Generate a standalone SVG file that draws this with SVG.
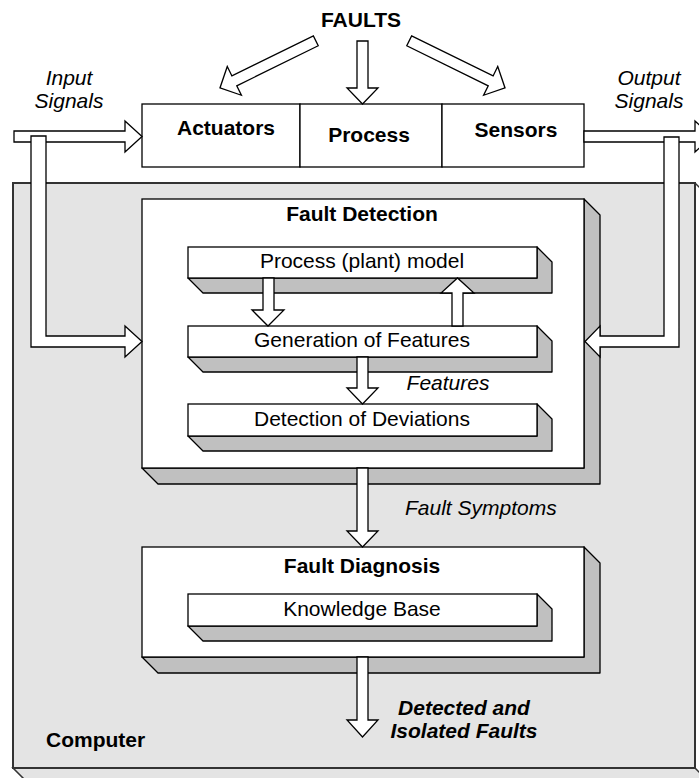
<svg xmlns="http://www.w3.org/2000/svg" width="699" height="778" viewBox="0 0 699 778">
<style>
text{font-family:"Liberation Sans",Arial,sans-serif;font-size:21px;fill:#000}
.b{font-weight:bold}
.i{font-style:italic}
.c{text-anchor:middle}
.ar{fill:#fff;stroke:#000;stroke-width:1.3;stroke-linejoin:miter}
.front{fill:#fff;stroke:#000;stroke-width:1.3}
.side{fill:#c0c0c0;stroke:#000;stroke-width:1.3;stroke-linejoin:round}
.box{fill:#fff;stroke:#000;stroke-width:1.3}
</style>
<rect width="699" height="778" fill="#fff"/>

<g id="computer">
  <polygon points="695,768 711,784 29,784 13,768" fill="#e4e4e4" stroke="#333" stroke-width="1.5"/>
  <line x1="695" y1="183" x2="711" y2="199" stroke="#333" stroke-width="1.5"/>
  <rect x="13" y="183" width="682" height="585" fill="#e4e4e4" stroke="#333" stroke-width="2"/>
  <text class="b" x="46" y="747">Computer</text>
</g>

<g id="process-chain">
  <rect class="box" x="142" y="104" width="158" height="63"/>
  <rect class="box" x="300" y="104" width="142" height="63"/>
  <rect class="box" x="442" y="104" width="142" height="63"/>
  <text class="b c" x="226" y="135">Actuators</text>
  <text class="b c" x="369" y="142">Process</text>
  <text class="b c" x="516" y="137">Sensors</text>
</g>

<g id="labels">
  <text class="b c" x="361" y="27">FAULTS</text>
  <text class="i c" x="69" y="85">Input</text>
  <text class="i c" x="69" y="108">Signals</text>
  <text class="i c" x="649" y="85">Output</text>
  <text class="i c" x="649" y="108">Signals</text>
</g>

<g id="fault-detection">
  <polygon class="side" points="584,199 600,215 600,484 158,484 142,468 584,468"/>
  <rect class="front" x="142" y="199" width="442" height="269"/>
  <text class="b c" x="362" y="221">Fault Detection</text>
</g>

<g id="process-model">
  <polygon class="side" points="537,247 552,262 552,293 203,293 188,278 537,278"/>
  <rect class="front" x="188" y="247" width="349" height="31"/>
  <text class="c" x="362" y="268">Process (plant) model</text>
</g>

<g id="generation-of-features">
  <polygon class="side" points="537,326 552,341 552,372 203,372 188,357 537,357"/>
  <rect class="front" x="188" y="326" width="349" height="31"/>
  <text class="c" x="362" y="347">Generation of Features</text>
</g>

<g id="detection-of-deviations">
  <polygon class="side" points="537,404 552,419 552,451 203,451 188,436 537,436"/>
  <rect class="front" x="188" y="404" width="349" height="32"/>
  <text class="c" x="362" y="426">Detection of Deviations</text>
</g>

<g id="fault-diagnosis">
  <polygon class="side" points="584,547 600,563 600,673 158,673 142,657 584,657"/>
  <rect class="front" x="142" y="547" width="442" height="110"/>
  <text class="b c" x="362" y="573">Fault Diagnosis</text>
</g>

<g id="knowledge-base">
  <polygon class="side" points="537,594 552,609 552,641 203,641 188,626 537,626"/>
  <rect class="front" x="188" y="594" width="349" height="32"/>
  <text class="c" x="362" y="616">Knowledge Base</text>
</g>

<g id="connectors">
  <g transform="translate(315.8,40.8) rotate(153.8)">
    <polygon class="ar" points="0,-5.5 90.8,-5.5 90.8,-16 106.8,0 90.8,16 90.8,5.5 0,5.5"/>
  </g>
  <g transform="translate(409.2,40.8) rotate(26.2)">
    <polygon class="ar" points="0,-5.5 90.8,-5.5 90.8,-16 106.8,0 90.8,16 90.8,5.5 0,5.5"/>
  </g>
  <polygon class="ar" points="357,41 368,41 368,88 378,88 362.5,104 347,88 357,88"/>
  <polygon class="ar" points="14,131 125,131 125,121 142,136.5 125,152 125,142 14,142"/>
  <polygon class="ar" points="584,131 695,131 695,121 712,136.5 695,152 695,142 584,142"/>
  <polygon class="ar" points="31,136 46,136 46,336 125,336 125,326 142,341.5 125,357 125,347 31,347"/>
  <polygon class="ar" points="664,137 679,137 679,347 600,347 600,357 585,341.5 600,326 600,336 664,336"/>
  <polygon class="ar" points="263,278 274,278 274,310 284,310 268,326 252,310 263,310"/>
  <polygon class="ar" points="452,326 463,326 463,293 474,293 457.5,278 441,293 452,293"/>
  <polygon class="ar" points="357,357 368,357 368,388 378,388 362.5,404 347,388 357,388"/>
  <polygon class="ar" points="357,468 368,468 368,531 378,531 362.5,547 347,531 357,531"/>
  <polygon class="ar" points="357,657 368,657 368,720 378,720 362.5,737 347,720 357,720"/>
  <text class="i c" x="448" y="390">Features</text>
  <text class="i" x="405" y="515">Fault Symptoms</text>
  <text class="b i c" x="464" y="715">Detected and</text>
  <text class="b i c" x="464" y="738">Isolated Faults</text>
</g>
</svg>
